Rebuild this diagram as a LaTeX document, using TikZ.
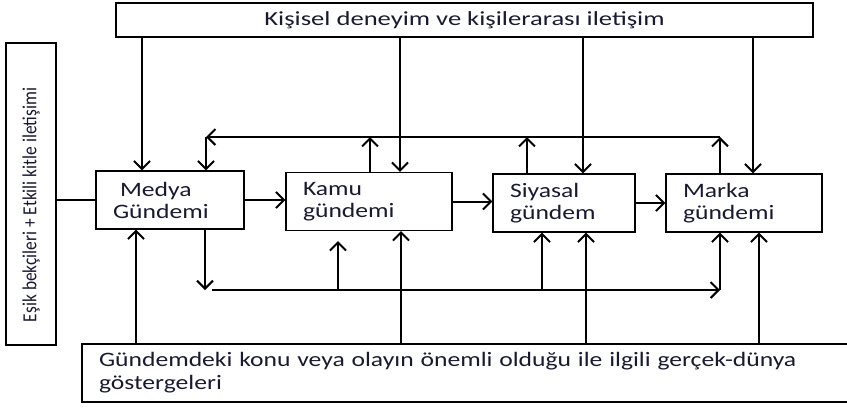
\documentclass[tikz,border=0pt]{standalone}
\usepackage{fontspec}
\setmainfont{Carlito}
\newfontfamily\widefont[FakeStretch=1.25]{Carlito}
\newfontfamily\topfont[FakeStretch=1.33]{Carlito}
\usepackage{tikz}
\usetikzlibrary{arrows.meta}
\definecolor{TextNavy}{RGB}{25,25,50}

\begin{document}
\begin{tikzpicture}[
  x=1pt, y=-1pt,
  box/.style={rectangle, draw=black, line width=1.3pt, inner xsep=17pt, inner ysep=0pt,
              font=\widefont\fontsize{20.5}{22}\selectfont, text=TextNavy,
              align=left, minimum height=58pt},
  arr/.style={-{Straight Barb[length=8pt,width=16pt]}, line width=2pt}
]
  \useasboundingbox (0,0) rectangle (847,408);

  \node[box, minimum width=697pt, minimum height=34pt, align=center,
        font=\topfont\fontsize{20}{22}\selectfont] (top) at (464.5,20)
        {Kişisel deneyim ve kişilerarası iletişim};
  \node[box, minimum width=50pt, minimum height=302pt, inner xsep=0pt,
        align=center, font=\fontsize{20}{22}\selectfont] (side) at (31,194)
        {\rotatebox{90}{\scalebox{0.87}[1]{Eşik bekçileri + Etkili kitle iletişimi}\hspace*{22pt}}};
  \node[box, text width=114pt] (med) at (170,200) {\hspace*{7pt}Medya\\Gündemi};
  \node[box, text width=132pt] (kamu) at (369,201.5) {Kamu\\gündemi};
  \node[box, text width=108pt] (siy) at (564,203) {Siyasal\\gündem};
  \node[box, text width=122pt] (mar) at (744,203) {Marka\\gündemi};
  \node[box, text width=732pt, font=\widefont\fontsize{20.5}{23}\selectfont] (bot) at (465,373)
        {Gündemdeki konu veya olayın önemli olduğu ile ilgili gerçek-dünya\\göstergeleri};

  \coordinate (fbL) at (206,137);
  \coordinate (fbR) at (720,137);
  \coordinate (md) at (205,290);
  \coordinate (blL) at (212,290);
  \coordinate (blR) at (720,290);

  \draw[line width=1.3pt] (med.west -| side.east) -- (med.west);

  \draw[arr] (top.south -| 142,0) -- (med.north -| 142,0);
  \draw[arr] (top.south -| 400,0) -- (kamu.north -| 400,0);
  \draw[arr] (top.south -| 583,0) -- (siy.north -| 583,0);
  \draw[arr] (top.south -| 753,0) -- (mar.north -| 753,0);

  \draw[arr] (fbR) -- (fbL);
  \draw[arr] (fbL) -- (med.north -| fbL);
  \draw[arr] (kamu.north -| 370,0) -- (fbL -| 370,0);
  \draw[arr] (siy.north -| 527,0) -- (fbL -| 527,0);
  \draw[arr] (mar.north -| fbR) -- (fbR);

  \draw[arr] (med.east) -- (med.east -| kamu.west);
  \draw[arr] (kamu.east) -- (kamu.east -| siy.west);
  \draw[arr] (siy.east) -- (siy.east -| mar.west);

  \draw[arr] (med.south -| md) -- (md);
  \draw[arr] (blL) -- (blR);
  \draw[arr, shorten >=10pt] (blL -| 338,0) -- (kamu.south -| 338,0);
  \draw[arr] (blL -| 542,0) -- (siy.south -| 542,0);
  \draw[arr] (blR) -- (mar.south -| blR);

  \draw[arr] (bot.north -| 136,0) -- (med.south -| 136,0);
  \draw[arr] (bot.north -| 401,0) -- (kamu.south -| 401,0);
  \draw[arr] (bot.north -| 586,0) -- (siy.south -| 586,0);
  \draw[arr] (bot.north -| 759,0) -- (mar.south -| 759,0);
\end{tikzpicture}
\end{document}
